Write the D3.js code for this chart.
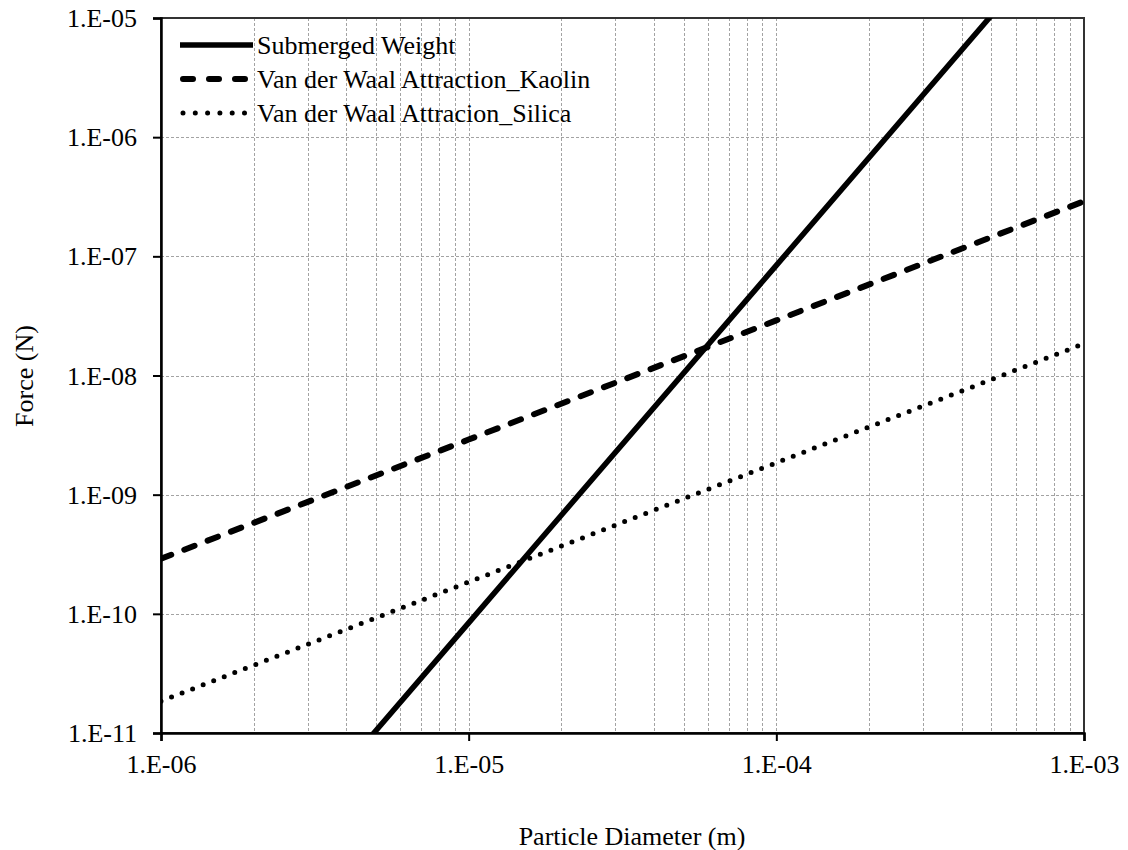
<!DOCTYPE html>
<html>
<head>
<meta charset="utf-8">
<script src="https://cdn.jsdelivr.net/npm/d3@7"></script>
<style>
  html, body { margin: 0; padding: 0; background: #fff; }
  svg text { font-family: "Liberation Serif", serif !important; fill: #000; }
</style>
</head>
<body>
<svg id="chart" width="1128" height="850" font-family="Liberation Serif"></svg>
<script>
// ---- data ----
const diameters = [1e-6, 1e-5, 1e-4, 1e-3];                 // Particle Diameter (m)
const submergedWeight = [8.4e-14, 8.4e-11, 8.4e-8, 8.4e-5]; // Force (N)
const vdwKaolin = [2.9e-10, 2.9e-9, 2.9e-8, 2.9e-7];        // Force (N)
const vdwSilica = [1.85e-11, 1.85e-10, 1.85e-9, 1.85e-8];   // Force (N)
const seriesNames = ["Submerged Weight", "Van der Waal Attraction_Kaolin", "Van der Waal Attracion_Silica"];
const xTickValues = [1e-6, 1e-5, 1e-4, 1e-3];
const xTickLabels = ["1.E-06", "1.E-05", "1.E-04", "1.E-03"];
const yTickValues = [1e-11, 1e-10, 1e-9, 1e-8, 1e-7, 1e-6, 1e-5];
const yTickLabels = ["1.E-11", "1.E-10", "1.E-09", "1.E-08", "1.E-07", "1.E-06", "1.E-05"];
const xTitle = "Particle Diameter (m)";
const yTitle = "Force (N)";

// ---- layout ----
const pL = 161, pR = 1084, pT = 18, pB = 733;
const FONT = "Liberation Serif";
const svg = d3.select("#chart");

const x = d3.scaleLog().domain([1e-6, 1e-3]).range([pL, pR]);
const y = d3.scaleLog().domain([1e-11, 1e-5]).range([pB, pT]);

// vertical gridlines (every 1..9 x decade)
const xGrid = [];
for (let e = -6; e < -3; e++) for (let m = 1; m <= 9; m++) xGrid.push(m * Math.pow(10, e));

const grid = svg.append("g");
grid.selectAll("line.vx").data(xGrid.filter(v => v > 1e-6 && v < 1e-3)).enter().append("line")
  .attr("x1", d => Math.round(x(d)) + 0.5).attr("x2", d => Math.round(x(d)) + 0.5)
  .attr("y1", pT).attr("y2", pB)
  .attr("stroke", "#a3a3a3").attr("stroke-width", 1).attr("stroke-dasharray", "3,2");
grid.selectAll("line.hy").data(yTickValues.filter(v => v > 1e-11 && v < 1e-5)).enter().append("line")
  .attr("x1", pL).attr("x2", pR)
  .attr("y1", d => Math.round(y(d)) + 0.5).attr("y2", d => Math.round(y(d)) + 0.5)
  .attr("stroke", "#a3a3a3").attr("stroke-width", 1).attr("stroke-dasharray", "3,2");

// plot border
svg.append("rect").attr("x", pL).attr("y", pT).attr("width", pR - pL).attr("height", pB - pT)
  .attr("fill", "none").attr("stroke", "#333").attr("stroke-width", 2);

// clip for the lines
svg.append("clipPath").attr("id", "plotclip").append("rect")
  .attr("x", pL).attr("y", pT).attr("width", pR - pL).attr("height", pB - pT);

const line = d3.line().x(d => x(d[0])).y(d => y(d[1]));
const series = [
  { name: seriesNames[0], values: submergedWeight, dash: null, width: 5.5, legendDash: null },
  { name: seriesNames[1], values: vdwKaolin, dash: "11,14", width: 6, legendDash: "10,16" },
  { name: seriesNames[2], values: vdwSilica, dash: "0,11.3", width: 5, legendDash: "0,12.3" }
];

const lines = svg.append("g").attr("clip-path", "url(#plotclip)");
series.forEach(s => {
  lines.append("path")
    .datum(diameters.map((d, i) => [d, s.values[i]]))
    .attr("d", line)
    .attr("fill", "none")
    .attr("stroke", "#000")
    .attr("stroke-width", s.width)
    .attr("stroke-linecap", s.dash ? "round" : "butt")
    .attr("stroke-dasharray", s.dash);
});

// axes
const xAxis = d3.axisBottom(x).tickValues(xTickValues).tickSize(8).tickFormat((d, i) => xTickLabels[i]);
const gx = svg.append("g").attr("transform", `translate(0,${pB})`).call(xAxis).attr("font-family", FONT);
gx.select(".domain").attr("stroke", "#000").attr("stroke-width", 2.5);
gx.selectAll(".tick line").attr("stroke", "#000").attr("stroke-width", 2);
gx.selectAll(".tick text").attr("font-size", 26).attr("font-family", FONT)
  .attr("y", 22).attr("dy", "0.71em");

const yAxis = d3.axisLeft(y).tickValues(yTickValues).tickSize(8).tickFormat((d, i) => yTickLabels[i]);
const gy = svg.append("g").attr("transform", `translate(${pL},0)`).call(yAxis).attr("font-family", FONT);
gy.select(".domain").attr("stroke", "#000").attr("stroke-width", 2.5);
gy.selectAll(".tick line").attr("stroke", "#000").attr("stroke-width", 2);
gy.selectAll(".tick text").attr("font-size", 26).attr("font-family", FONT)
  .attr("x", -24).attr("dy", "0.33em");

// axis titles
svg.append("text").attr("x", 632).attr("y", 845).attr("text-anchor", "middle")
  .attr("font-family", FONT).attr("font-size", 26).text(xTitle);
svg.append("text").attr("transform", "translate(33,376) rotate(-90)").attr("text-anchor", "middle")
  .attr("font-family", FONT).attr("font-size", 26).text(yTitle);

// legend
const legendYs = [45, 79, 113];
const legend = svg.append("g");
series.forEach((s, i) => {
  const ly = legendYs[i];
  legend.append("line")
    .attr("x1", s.legendDash ? 183 : 180).attr("x2", s.legendDash ? 250 : 253)
    .attr("y1", ly).attr("y2", ly)
    .attr("stroke", "#000").attr("stroke-width", s.width)
    .attr("stroke-linecap", s.legendDash ? "round" : "butt")
    .attr("stroke-dasharray", s.legendDash);
  legend.append("text").attr("x", 257).attr("y", ly + 9)
    .attr("font-family", FONT).attr("font-size", 26).text(s.name);
});
</script>
</body>
</html>
